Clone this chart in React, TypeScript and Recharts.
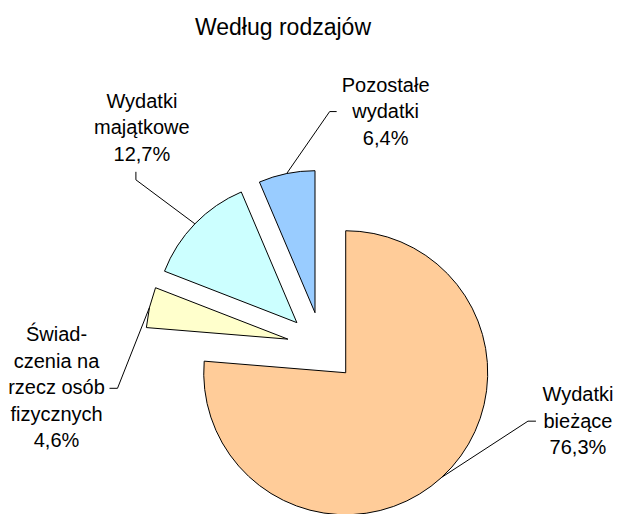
import { Cell, Pie, PieChart } from 'recharts';

const sliceNames = ['Wydatki bieżące', 'Świadczenia na rzecz osób fizycznych', 'Wydatki majątkowe', 'Pozostałe wydatki'];
const sliceValues = [76.3, 4.6, 12.7, 6.4];
const labelLines = [
  ['Wydatki', 'bieżące'],
  ['Świad-', 'czenia na', 'rzecz osób', 'fizycznych'],
  ['Wydatki', 'majątkowe'],
  ['Pozostałe', 'wydatki'],
];
const sliceColors = ['#FFCC99', '#FFFFCC', '#CCFFFF', '#99CCFF'];

const data = sliceNames.map((name, i) => ({ name, value: sliceValues[i] }));

// pie geometry
const W = 617;
const H = 514;
const CENTER = { x: 322, y: 347 };
const RADIUS = 142;
const EXPLODE = 35;
const RAD = Math.PI / 180;
const FONT = '"Liberation Sans", Arial, sans-serif';
const LINE_H = 26.5;

// leader line / text placement, relative to the arc midpoint of each slice
const labelLayout = [
  { elbow: [86, -56], tail: [8, 0], text: [42, -20] },
  { elbow: [-32, 81], tail: [-8, 0], text: [-53, -47] },
  { elbow: [-59, -44], tail: [0, -8], text: [6, -64] },
  { elbow: [43, -62], tail: [7, 0], text: [49, -20] },
];

const total = sliceValues.reduce((a, b) => a + b, 0);
let acc = 0;
const centers = sliceValues.map((v) => {
  const mid = 90 - ((acc + v / 2) / total) * 360;
  acc += v;
  return {
    cx: CENTER.x + EXPLODE * Math.cos(mid * RAD),
    cy: CENTER.y - EXPLODE * Math.sin(mid * RAD),
  };
});

const fmt = (v: number) => v.toFixed(1).replace('.', ',') + '%';

function makeLabel(only: number) {
  return (props: any) => {
    const { cx, cy, midAngle, outerRadius, index, value } = props;
    if (index !== only) return null;
    const ax = cx + outerRadius * Math.cos(-midAngle * RAD);
    const ay = cy + outerRadius * Math.sin(-midAngle * RAD);
    const lay = labelLayout[index];
    const ex = ax + lay.elbow[0];
    const ey = ay + lay.elbow[1];
    const tx = ex + lay.tail[0];
    const ty = ey + lay.tail[1];
    const lines = [...labelLines[index], fmt(Number(value))];
    return (
      <g key={`lbl-${index}`}>
        <polyline points={`${ax},${ay} ${ex},${ey} ${tx},${ty}`} fill="none" stroke="#000" strokeWidth={1} />
        <text
          x={tx + lay.text[0]}
          y={ty + lay.text[1]}
          textAnchor="middle"
          fontFamily={FONT}
          fontSize={20}
          fill="#000"
        >
          {lines.map((l, k) => (
            <tspan key={k} x={tx + lay.text[0]} dy={k === 0 ? 0 : LINE_H}>
              {l}
            </tspan>
          ))}
        </text>
      </g>
    );
  };
}

export default function App() {
  return (
    <div style={{ position: 'absolute', left: 0, top: 0, width: W, height: H, background: '#fff' }}>
      <div
        style={{
          position: 'absolute',
          left: 0,
          width: 566,
          top: 16,
          textAlign: 'center',
          fontFamily: FONT,
          fontSize: 23,
          lineHeight: '23px',
          color: '#000',
        }}
      >
        Według rodzajów
      </div>
      <PieChart width={W} height={H} margin={{ top: 0, right: 0, bottom: 0, left: 0 }}>
        {centers.map((c, i) => (
          <Pie
            key={i}
            data={data}
            dataKey="value"
            nameKey="name"
            cx={c.cx}
            cy={c.cy}
            innerRadius={0}
            outerRadius={RADIUS}
            startAngle={90}
            endAngle={-270}
            isAnimationActive={false}
            label={makeLabel(i)}
            labelLine={false}
          >
            {data.map((d, j) => (
              <Cell
                key={d.name}
                fill={j === i ? sliceColors[j] : 'none'}
                stroke={j === i ? '#000' : 'none'}
                strokeWidth={1}
              />
            ))}
          </Pie>
        ))}
      </PieChart>
    </div>
  );
}
